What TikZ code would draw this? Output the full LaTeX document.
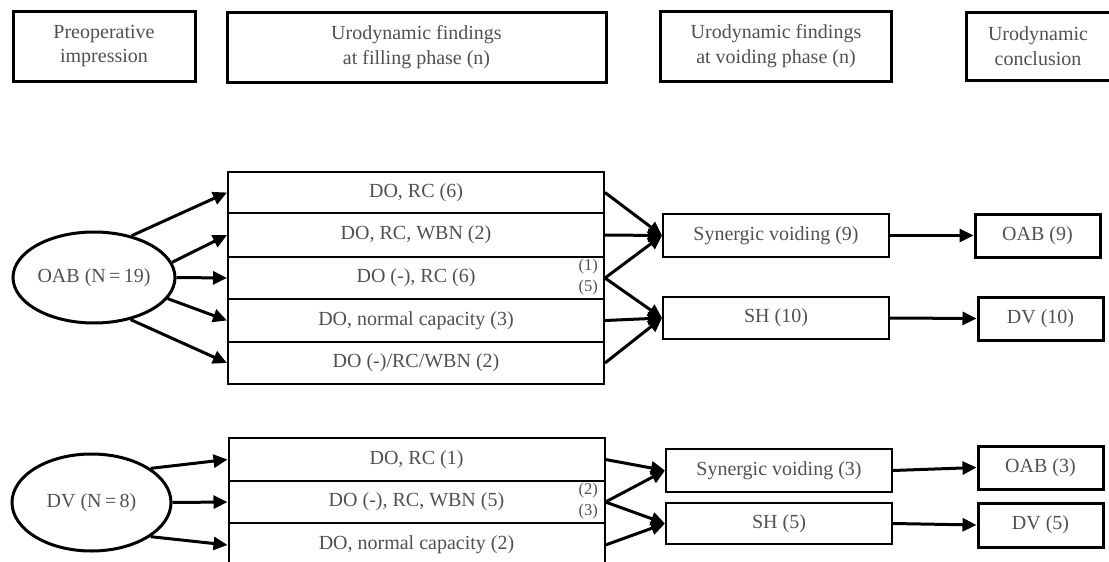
\documentclass[tikz,border=0pt]{standalone}
\usepackage{fontspec}
\setmainfont{Liberation Serif}
\usetikzlibrary{arrows.meta,shapes.geometric}
\definecolor{txt}{RGB}{80,80,80}
\tikzset{
  base/.style={draw=black, inner sep=0pt, text=txt, align=center,
    font=\fontsize{20}{24.5}\selectfont},
  headbox/.style={base, line width=3pt},
  fillbox/.style={base, line width=2pt, minimum width=376pt},
  voidbox/.style={base, line width=2pt, minimum width=226pt},
  concbox/.style={base, line width=3pt, minimum width=125pt},
  oval/.style={base, ellipse, line width=3pt},
  arr/.style={line width=3pt, -{Triangle[length=14pt,width=13pt]}},
  small/.style={text=txt, inner sep=0pt, font=\fontsize{16.5}{18}\selectfont}
}
\begin{document}
\begin{tikzpicture}[x=1pt,y=-1pt]
\useasboundingbox (0,0) rectangle (1109,562);
% headers
\node[headbox, minimum width=182pt, minimum height=70pt] (h1) at (104,46) {Preoperative\\impression};
\node[headbox, minimum width=379pt, minimum height=70pt] (h2) at (416.5,47) {Urodynamic findings\\at filling phase (n)};
\node[headbox, minimum width=231pt, minimum height=70pt] (h3) at (776,46) {Urodynamic findings\\at voiding phase (n)};
\node[headbox, minimum width=144pt, minimum height=68pt] (h4) at (1038,46) {Urodynamic\\conclusion};
% top group
\node[oval, minimum width=162pt, minimum height=91pt] (oab) at (94,277.5) {OAB (N\,=\,19)};
\node[fillbox, minimum height=41pt] (f1) at (416,192.5) {DO, RC (6)};
\node[fillbox, minimum height=44pt] (f2) at (416,235) {DO, RC, WBN (2)};
\node[fillbox, minimum height=42pt] (f3) at (416,278) {DO (-), RC (6)};
\node[fillbox, minimum height=43pt] (f4) at (416,320.5) {DO, normal capacity (3)};
\node[fillbox, minimum height=42pt] (f5) at (416,363) {DO (-)/RC/WBN (2)};
\node[voidbox, minimum height=43pt] (sv1) at (776,235.5) {Synergic voiding (9)};
\node[voidbox, minimum height=42pt] (sh1) at (776,318) {SH (10)};
\node[concbox, minimum height=43pt] (c1) at (1037.5,235.5) {OAB (9)};
\node[concbox, minimum height=43pt] (c2) at (1040.5,318.5) {DV (10)};
\node[small, anchor=east] (l1) at (598,267) {(1)};
\node[small, anchor=east] (l5) at (598,288) {(5)};
\draw[arr] (oab.48) -- (f1.west);
\draw[arr] (oab.11) -- (f2.west);
\draw[arr] (oab.east) -- (f3.west);
\draw[arr] (oab.-16) -- (f4.west);
\draw[arr] (oab.-49) -- (f5.west);
\draw[arr] (f1.east) -- (sv1.west);
\draw[arr] (f2.east) -- (sv1.west);
\draw[arr] (f3.east) -- (sv1.west);
\draw[arr] (f3.east) -- (sh1.west);
\draw[arr] (f4.east) -- (sh1.west);
\draw[arr] (f5.east) -- (sh1.west);
\draw[arr] (sv1.east) -- (c1.west);
\draw[arr] (sh1.east) -- (c2.west);
% bottom group
\node[oval, minimum width=159pt, minimum height=97pt] (dv) at (91.5,502.5) {DV (N\,=\,8)};
\node[fillbox, minimum height=43pt] (g1) at (416.5,459.5) {DO, RC (1)};
\node[fillbox, minimum height=42pt] (g2) at (416.5,502) {DO (-), RC, WBN (5)};
\node[fillbox, minimum height=44pt] (g3) at (416.5,545) {DO, normal capacity (2)};
\node[voidbox, minimum height=43pt] (sv2) at (779,470.5) {Synergic voiding (3)};
\node[voidbox, minimum height=41pt] (sh2) at (779,523.5) {SH (5)};
\node[concbox, minimum height=43pt] (c3) at (1040.5,467.5) {OAB (3)};
\node[concbox, minimum height=44pt] (c4) at (1040.5,525) {DV (5)};
\node[small, anchor=east] (l2) at (598,491) {(2)};
\node[small, anchor=east] (l3) at (598,512) {(3)};
\draw[arr] (dv.30) -- (g1.west);
\draw[arr] (dv.east) -- (g2.west);
\draw[arr] (dv.-30) -- (g3.west);
\draw[arr] (g1.east) -- (sv2.west);
\draw[arr] (g2.east) -- (sv2.west);
\draw[arr] (g2.east) -- (sh2.west);
\draw[arr] (g3.east) -- (sh2.west);
\draw[arr] (sv2.east) -- (c3.west);
\draw[arr] (sh2.east) -- (c4.west);
\end{tikzpicture}
\end{document}
